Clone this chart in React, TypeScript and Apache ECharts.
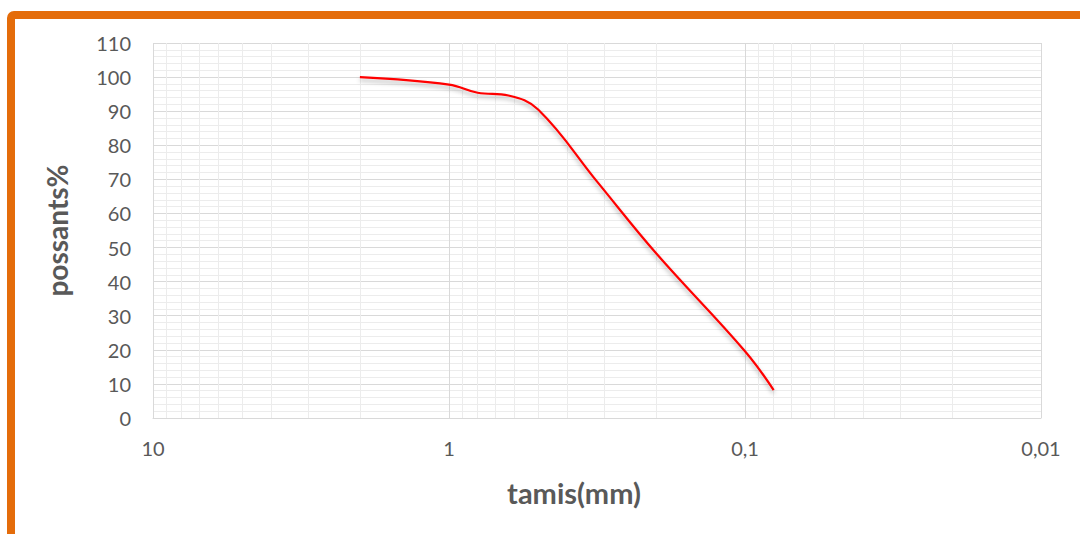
import React, { useEffect, useRef } from "react";
import * as echarts from "echarts";

// Sieve sizes (mm) and passing percentages
const sieveSizes = [2, 1, 0.8, 0.63, 0.5, 0.315, 0.2, 0.1, 0.08];
const passing = [100, 97.8, 95.4, 94.6, 90.5, 69.2, 48.4, 19.6, 8.2];

// Minor log gridline positions (mm)
const minorX = [
  9, 8, 7, 6, 5, 4, 3, 2,
  0.9, 0.8, 0.7, 0.6, 0.5, 0.4, 0.3, 0.2,
  0.09, 0.08, 0.07, 0.06, 0.05, 0.04, 0.03, 0.02,
];

const xTitle = "tamis(mm)";
const yTitle = "possants%";

export default function App() {
  const ref = useRef<HTMLDivElement>(null);

  useEffect(() => {
    if (!ref.current) return;
    const chart = echarts.init(ref.current, null, { renderer: "svg" });
    const font = "Lato, 'Open Sans', sans-serif";
    chart.setOption({
      animation: false,
      backgroundColor: "#ffffff",
      grid: { left: 153, right: 39, top: 43, bottom: 116, containLabel: false },
      graphic: [
        {
          type: "rect",
          shape: { x: 11, y: 15, width: 1300, height: 900, r: 3 },
          style: { fill: "none", stroke: "#E46C0A", lineWidth: 8 },
          z: 100,
        },
      ],
      xAxis: {
        type: "log",
        logBase: 10,
        min: 0.01,
        max: 10,
        inverse: true,
        name: xTitle,
        nameLocation: "middle",
        nameGap: 60,
        nameTextStyle: {
          color: "#595959",
          fontSize: 29,
          fontWeight: "bold",
          fontFamily: font,
          padding: [0, 46, 0, 0],
        },
        axisLine: { show: true, lineStyle: { color: "#d9d9d9", width: 1 } },
        axisTick: { show: false },
        axisLabel: {
          color: "#595959",
          fontSize: 20,
          fontFamily: font,
          margin: 20,
          formatter: (v: number) => String(Number(v.toPrecision(6))).replace(".", ","),
        },
        splitLine: { show: true, lineStyle: { color: "#d9d9d9", width: 1 } },
      },
      yAxis: {
        type: "value",
        min: 0,
        max: 110,
        interval: 10,
        name: yTitle,
        nameLocation: "middle",
        nameGap: 82,
        nameTextStyle: { color: "#595959", fontSize: 28, fontWeight: "bold", fontFamily: font },
        axisLine: { show: false },
        axisTick: { show: false },
        axisLabel: { color: "#595959", fontSize: 20, fontFamily: font, margin: 22 },
        splitLine: { show: true, lineStyle: { color: "#d9d9d9", width: 1 } },
        minorTick: { show: false, splitNumber: 5 },
        minorSplitLine: { show: true, lineStyle: { color: "#ececec", width: 1 } },
      },
      series: [
        {
          type: "line",
          data: [],
          silent: true,
          z: 1,
          markLine: {
            silent: true,
            symbol: "none",
            label: { show: false },
            lineStyle: { color: "#ececec", width: 1, type: "solid" },
            data: minorX.map((v) => ({ xAxis: v })),
          },
        },
        {
          type: "line",
          data: sieveSizes.map((s, i) => [s, passing[i]]),
          smooth: 0.4,
          showSymbol: false,
          symbol: "none",
          z: 5,
          lineStyle: {
            color: "#ff0000",
            width: 2.2,
            shadowColor: "rgba(0,0,0,0.3)",
            shadowBlur: 4,
            shadowOffsetY: 3,
          },
        },
      ],
    });
    return () => chart.dispose();
  }, []);

  return (
    <div
      ref={ref}
      style={{ position: "fixed", left: 0, top: 0, width: 1080, height: 534 }}
    />
  );
}
